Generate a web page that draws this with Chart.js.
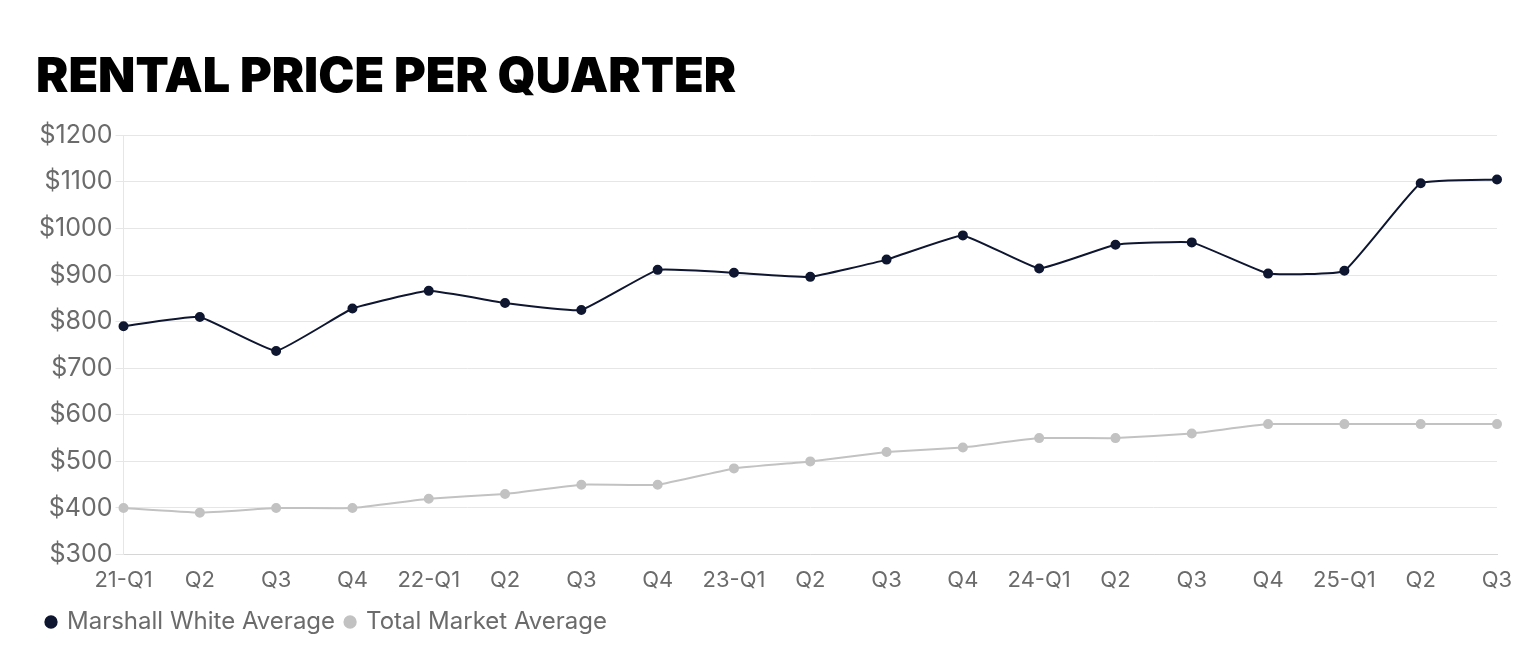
<!DOCTYPE html>
<html>
<head>
<meta charset="utf-8">
<script src="https://cdn.jsdelivr.net/npm/chart.js@4/dist/chart.umd.min.js"></script>
<style>
  html, body { margin: 0; padding: 0; background: #fff; }
  #wrap { width: 1532px; height: 665px; }
</style>
</head>
<body>
<div id="wrap"><canvas id="chart"></canvas></div>
<script>
// === DATA ===
const quarters = ["21-Q1","Q2","Q3","Q4","22-Q1","Q2","Q3","Q4","23-Q1","Q2","Q3","Q4","24-Q1","Q2","Q3","Q4","25-Q1","Q2","Q3"];
const marshallWhite = [790, 810, 737, 828, 866, 840, 825, 911, 905, 896, 933, 985, 914, 965, 970, 903, 909, 1097, 1105];
const totalMarket = [400, 390, 400, 400, 420, 430, 450, 450, 485, 500, 520, 530, 550, 550, 560, 580, 580, 580, 580];
const yMin = 300, yMax = 1200, yStep = 100;

// === CHART ===
const gray = "#6b6b6b";

new Chart(document.getElementById("chart"), {
  type: "line",
  data: {
    labels: quarters,
    datasets: [
      { label: "Marshall White Average", data: marshallWhite, borderColor: "#0e1630", backgroundColor: "#0e1630",
        borderWidth: 2, pointRadius: 4, pointHoverRadius: 4, tension: 0.1 },
      { label: "Total Market Average", data: totalMarket, borderColor: "#c2c2c2", backgroundColor: "#c2c2c2",
        borderWidth: 2, pointRadius: 4, pointHoverRadius: 4, tension: 0.1 }
    ]
  },
  options: {
    responsive: true,
    maintainAspectRatio: false,
    animation: false,
    layout: { padding: { left: 36, right: 35, top: 48, bottom: 21 } },
    plugins: {
      title: {
        display: true, text: "RENTAL PRICE PER QUARTER", align: "start", color: "#000",
        font: { family: "Inter", size: 48.5, weight: "900" }, padding: { top: 0, bottom: 29 }
      },
      legend: {
        position: "bottom", align: "start",
        labels: { usePointStyle: true, pointStyle: "circle", boxWidth: 8, boxHeight: 8, color: gray,
          font: { family: "Inter", size: 24 }, padding: 11 }
      },
      tooltip: { enabled: false }
    },
    scales: {
      x: {
        grid: { display: false },
        border: { color: "#d6d6d6" },
        ticks: { color: gray, font: { family: "Inter", size: 22 }, padding: 5, maxRotation: 0, autoSkip: false }
      },
      y: {
        min: yMin, max: yMax,
        grid: { color: "#e6e6e6" },
        border: { color: "#e6e6e6" },
        ticks: { stepSize: yStep, color: gray, font: { family: "Inter", size: 25 }, callback: v => "$" + v }
      }
    }
  }
});
</script>
</body>
</html>
